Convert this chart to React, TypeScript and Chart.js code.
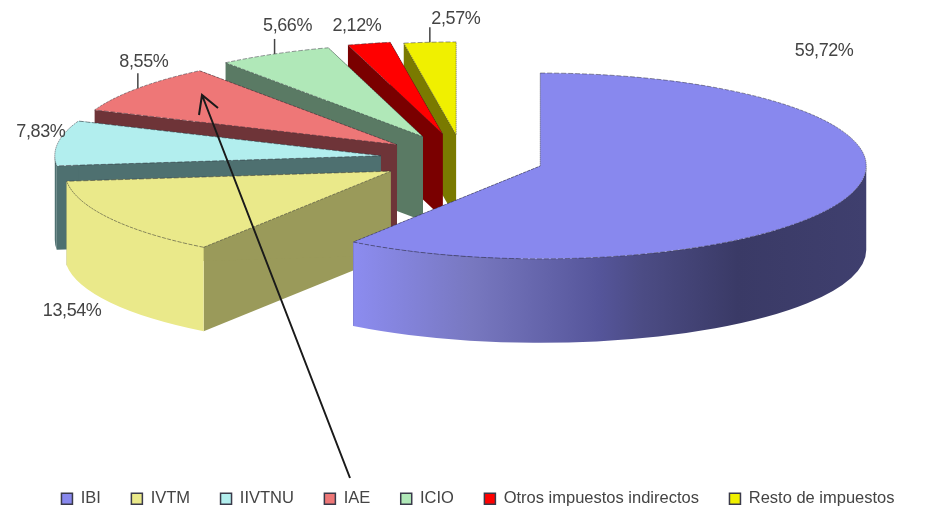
import React, { useEffect, useRef } from "react";
import { Chart, registerables } from "chart.js";

Chart.register(...registerables);

const categories = ["IBI", "IVTM", "IIVTNU", "IAE", "ICIO", "Otros impuestos indirectos", "Resto de impuestos"];
const shares = [59.72, 13.54, 7.83, 8.55, 5.66, 2.12, 2.57];
const topColors = ["#8888EE", "#EAE98A", "#B2EEEE", "#EE7777", "#B0E8B8", "#FF0000", "#F0F000"];
const faceColors = ["#3C3C68", "#9A9A5A", "#4E7070", "#6E3438", "#5A7A64", "#7A0000", "#7A7A00"];
const rimColors = ["#5A5A98", "#EAE98A", "#4E7070", "#6E3438", "#5A7A64", "#7A0000", "#7A7A00"];
const explosion = [81, 84, 83, 83, 88, 90, 85];
const labelNudge = [[-27, -143], [-38, 93], [-17, -11], [6, -26], [13, -28], [-12, -17], [26, -23]];
const leaderSlices = [3, 4, 6];

const CENTER_X = 463;
const CENTER_Y = 159;
const SQUASH = 0.285;
const RADIUS = 326;
const DEPTH = 84;
const TEXT = "#444444";

function slicePoint(arc: any, i: number) {
  const mid = (arc.startAngle + arc.endAngle) / 2;
  const d = explosion[i];
  return { x: CENTER_X + Math.cos(mid) * d, y: CENTER_Y + Math.sin(mid) * d * SQUASH, mid };
}

const pie3d = {
  id: "pie3d",
  beforeDatasetsDraw(chart: any) {
    const ctx = chart.ctx;
    const arcs = chart.getDatasetMeta(0).data;
    for (let i = arcs.length - 1; i >= 0; i--) {
      const arc = arcs[i];
      const p = slicePoint(arc, i);
      const R = arc.outerRadius;
      const ry = R * SQUASH;
      // cut faces
      ctx.save();
      ctx.fillStyle = faceColors[i];
      [arc.startAngle, arc.endAngle].forEach((a: number) => {
        const rx0 = p.x + Math.cos(a) * R;
        const ry0 = p.y + Math.sin(a) * ry;
        ctx.beginPath();
        ctx.moveTo(p.x, p.y);
        ctx.lineTo(rx0, ry0);
        ctx.lineTo(rx0, ry0 + DEPTH);
        ctx.lineTo(p.x, p.y + DEPTH);
        ctx.closePath();
        ctx.fill();
      });
      // rim wall, front half only
      const a0 = Math.max(arc.startAngle, 0);
      const a1 = Math.min(arc.endAngle, Math.PI);
      if (a1 > a0) {
        if (i === 0) {
          const g = ctx.createLinearGradient(p.x + Math.cos(a1) * R, 0, p.x + R, 0);
          g.addColorStop(0, "#8C8CF0");
          g.addColorStop(0.23, "#7878C0");
          g.addColorStop(0.48, "#55559A");
          g.addColorStop(0.56, "#4C4C85");
          g.addColorStop(0.75, "#3A3A66");
          g.addColorStop(1, "#3F3F6E");
          ctx.fillStyle = g;
        } else {
          ctx.fillStyle = rimColors[i];
        }
        ctx.beginPath();
        ctx.ellipse(p.x, p.y, R, ry, 0, a0, a1, false);
        ctx.ellipse(p.x, p.y + DEPTH, R, ry, 0, a1, a0, true);
        ctx.closePath();
        ctx.fill();
      }
      ctx.restore();
      // top surface, the library's own arc under a squashing transform
      ctx.save();
      ctx.translate(p.x, p.y);
      ctx.scale(1, SQUASH);
      ctx.translate(-arc.x, -arc.y);
      arc.draw(ctx, chart.chartArea);
      ctx.restore();
    }
    return false;
  },
  afterDraw(chart: any) {
    const ctx = chart.ctx;
    const arcs = chart.getDatasetMeta(0).data;
    ctx.save();
    ctx.font = "18px 'Liberation Sans'";
    ctx.fillStyle = TEXT;
    ctx.strokeStyle = TEXT;
    ctx.lineWidth = 1.5;
    ctx.textAlign = "center";
    ctx.textBaseline = "middle";
    (ctx as any).letterSpacing = "-0.4px";
    arcs.forEach((arc: any, i: number) => {
      const p = slicePoint(arc, i);
      const ax = p.x + Math.cos(p.mid) * arc.outerRadius;
      const ay = p.y + Math.sin(p.mid) * arc.outerRadius * SQUASH;
      const text = shares[i].toFixed(2).replace(".", ",") + "%";
      ctx.fillText(text, ax + labelNudge[i][0], ay + labelNudge[i][1]);
      if (leaderSlices.includes(i)) {
        ctx.beginPath();
        ctx.moveTo(ax, ay);
        ctx.lineTo(ax, ay - 15);
        ctx.stroke();
      }
    });
    // hand-drawn arrow pointing at the IAE slice
    ctx.strokeStyle = "#1a1a1a";
    ctx.lineWidth = 2;
    ctx.beginPath();
    ctx.moveTo(350, 478);
    ctx.lineTo(202, 95);
    ctx.moveTo(199, 115);
    ctx.lineTo(202, 95);
    ctx.lineTo(218, 108);
    ctx.stroke();
    ctx.restore();
  },
};

export default function App() {
  const ref = useRef<HTMLCanvasElement | null>(null);
  useEffect(() => {
    const chart = new Chart(ref.current as HTMLCanvasElement, {
      type: "pie",
      data: {
        labels: categories,
        datasets: [
          {
            data: shares,
            backgroundColor: topColors,
            borderColor: "rgba(40,40,50,0.75)",
            borderWidth: 1,
            borderDash: [5, 2],
            radius: RADIUS,
          } as any,
        ],
      },
      options: {
        responsive: false,
        animation: false,
        events: [],
        layout: { padding: { left: 15, right: -15, bottom: -6 } },
        plugins: {
          tooltip: { enabled: false },
          title: { display: false },
          legend: {
            display: true,
            position: "bottom",
            labels: {
              boxWidth: 11,
              boxHeight: 11,
              padding: 30.5,
              color: TEXT,
              font: { family: "'Liberation Sans'", size: 16.5 },
              generateLabels: (chart: any) =>
                (Chart as any).overrides.pie.plugins.legend.labels
                  .generateLabels(chart)
                  .map((item: any) => ({ ...item, lineDash: [], strokeStyle: "#3a3a4a", lineWidth: 1.5 })),
            },
          },
        },
      },
      plugins: [pie3d],
    } as any);
    return () => chart.destroy();
  }, []);
  return (
    <div style={{ position: "fixed", left: 0, top: 0, width: 926, height: 511, background: "#fff" }}>
      <canvas ref={ref} width={926} height={511} style={{ display: "block", width: 926, height: 511, filter: "blur(0.7px)" }} />
    </div>
  );
}
